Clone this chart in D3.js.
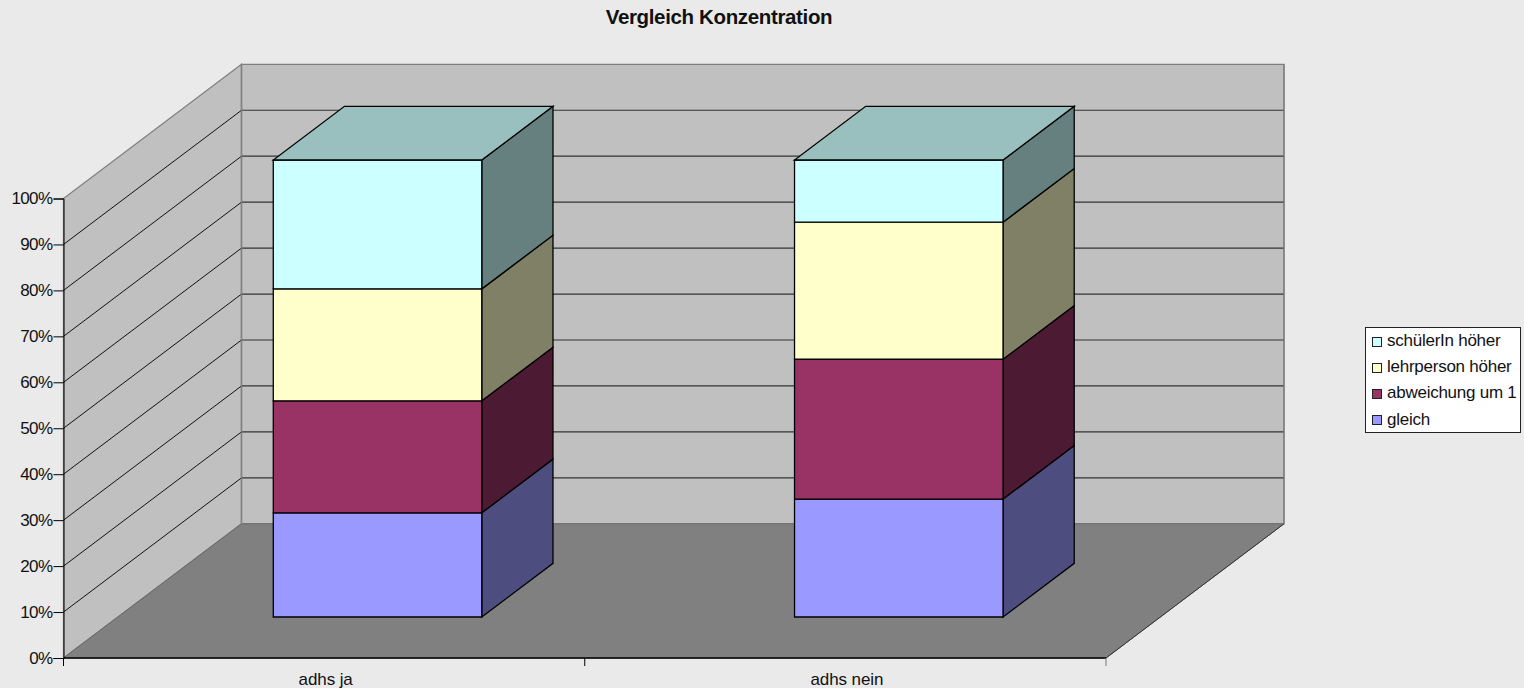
<!DOCTYPE html>
<html><head><meta charset="utf-8">
<script src="https://cdnjs.cloudflare.com/ajax/libs/d3/7.8.5/d3.min.js"></script>
<style>html,body{margin:0;padding:0;background:#eaeaea;overflow:hidden}svg{display:block}text{font-family:"Liberation Sans",Arial,sans-serif;fill:#111}</style>
</head><body><svg id="c" width="1524" height="688"></svg>
<script>
const categories = ["adhs ja", "adhs nein"];
const seriesNames = ["gleich", "abweichung um 1", "lehrperson höher", "schülerIn höher"];
const gleich = [22.8, 25.8];
const abweichung = [24.5, 30.6];
const lehrperson = [24.5, 30.0];
const schueler = [28.2, 13.6];
const yTicks = [0,10,20,30,40,50,60,70,80,90,100];
const frontColors = ["#9999ff", "#993366", "#ffffcc", "#ccffff"];
const sideColors = ["#4d4d80", "#4d1a33", "#808066", "#668080"];
const topColor = "#99bfbf";

const svg = d3.select("#c");
const X0 = 63.5, X1 = 1106, Y0 = 658, Y100 = 198.5, DX = 178, DY = -134.2;
const y = d3.scaleLinear().domain([0,100]).range([Y0,Y100]);
const yBar = d3.scaleLinear().domain([0,100]).range([617,160]);
const x = d3.scaleBand().domain(categories).range([X0+DX*0.3,X1+DX*0.3]).paddingInner(0.6).paddingOuter(0.3);
const xCat = d3.scaleBand().domain(categories).range([X0,X1]);
const bdx = DX*0.4, bdy = DY*0.4;
const pts = a => a.map(p=>p.join(",")).join(" ");
const FF = '"Liberation Sans",Arial,sans-serif';

svg.append("text").attr("x",719).attr("y",24).attr("text-anchor","middle")
  .attr("font-size",20.5).attr("font-weight","bold").attr("letter-spacing",-0.35).text("Vergleich Konzentration");

// walls and floor
const W = "#c0c0c0", E = "#808080";
svg.append("polygon").attr("points",pts([[X0,y(0)],[X0+DX,y(0)+DY],[X0+DX,y(100)+DY],[X0,y(100)]])).attr("fill",W).attr("stroke",E).attr("stroke-width",1.3);
svg.append("polygon").attr("points",pts([[X0+DX,y(0)+DY],[X1+DX,y(0)+DY],[X1+DX,y(100)+DY],[X0+DX,y(100)+DY]])).attr("fill",W).attr("stroke",E).attr("stroke-width",1.3);
svg.append("polygon").attr("points",pts([[X0,y(0)],[X1,y(0)],[X1+DX,y(0)+DY],[X0+DX,y(0)+DY]])).attr("fill",E).attr("stroke","#6a6a6a").attr("stroke-width",1);
svg.append("line").attr("x1",X1).attr("y1",y(0)).attr("x2",X1+DX).attr("y2",y(0)+DY).attr("stroke","#333").attr("stroke-width",1);

// gridlines
yTicks.filter(t=>t>0&&t<100).forEach(t=>{
  svg.append("line").attr("x1",X0).attr("y1",y(t)).attr("x2",X0+DX).attr("y2",y(t)+DY).attr("stroke","#111").attr("stroke-width",1);
  svg.append("line").attr("x1",X0+DX).attr("y1",y(t)+DY).attr("x2",X1+DX).attr("y2",y(t)+DY).attr("stroke","#333").attr("stroke-width",1.2);
});
svg.append("line").attr("x1",X0+DX).attr("x2",X0+DX).attr("y1",y(0)+DY).attr("y2",y(100)+DY).attr("stroke",E).attr("stroke-width",1.3);
svg.append("line").attr("x1",X1+DX).attr("x2",X1+DX).attr("y1",y(0)+DY).attr("y2",y(100)+DY).attr("stroke",E).attr("stroke-width",1.3);

// bars
const series = [gleich, abweichung, lehrperson, schueler];
categories.forEach((c,i)=>{
  const g = svg.append("g");
  const xl = x(c), xr = xl + x.bandwidth();
  let acc = 0;
  series.forEach((s,k)=>{
    const a = yBar(acc), b = yBar(acc + s[i]);
    acc += s[i];
    g.append("polygon").attr("points",pts([[xr,a],[xr+bdx,a+bdy],[xr+bdx,b+bdy],[xr,b]])).attr("fill",sideColors[k]).attr("stroke","#000").attr("stroke-width",1.3);
    g.append("polygon").attr("points",pts([[xl,a],[xr,a],[xr,b],[xl,b]])).attr("fill",frontColors[k]).attr("stroke","#000").attr("stroke-width",1.3);
    if(k===series.length-1){
      g.append("polygon").attr("points",pts([[xl,b],[xr,b],[xr+bdx,b+bdy],[xl+bdx,b+bdy]])).attr("fill",topColor).attr("stroke","#000").attr("stroke-width",1.3);
    }
  });
});

// axes
const yAxis = svg.append("g").attr("transform",`translate(${X0},0)`).call(d3.axisLeft(y).tickValues(yTicks).tickSize(10).tickPadding(1).tickFormat(d=>d+"%"));
yAxis.selectAll("text").attr("font-size",17).attr("letter-spacing",-0.6).style("font-family",FF).style("fill","#111");
yAxis.selectAll("line,path").attr("stroke","#000");
const xAxis = svg.append("g").attr("transform",`translate(0,${Y0})`).call(d3.axisBottom(xCat).tickSize(0).tickPadding(15));
xAxis.select("path").remove();
xAxis.selectAll("text").attr("font-size",17).attr("letter-spacing",-0.1).attr("dx",1.5).style("font-family",FF).style("fill","#111");
svg.append("line").attr("x1",X0).attr("x2",X1).attr("y1",Y0).attr("y2",Y0).attr("stroke","#000").attr("stroke-width",1.3);
[X0, X0+xCat.step(), X1].forEach(v=>svg.append("line").attr("x1",v).attr("x2",v).attr("y1",Y0).attr("y2",Y0+8).attr("stroke",v===X1?"#777":"#000"));

// legend
svg.append("rect").attr("x",1365.5).attr("y",327.5).attr("width",155).attr("height",105).attr("fill","#fff").attr("stroke","#222");
const legendOrder = [3,2,1,0];
legendOrder.forEach((k,i)=>{
  const ly = 341 + i*26.2;
  svg.append("rect").attr("x",1372.5).attr("y",Math.round(ly-4.5)+0.5).attr("width",9).attr("height",9).attr("fill",frontColors[k]).attr("stroke","#222");
  svg.append("text").attr("x",1387).attr("y",ly+5).attr("font-size",17).attr("letter-spacing",-0.25).text(seriesNames[k]);
});
</script></body></html>
